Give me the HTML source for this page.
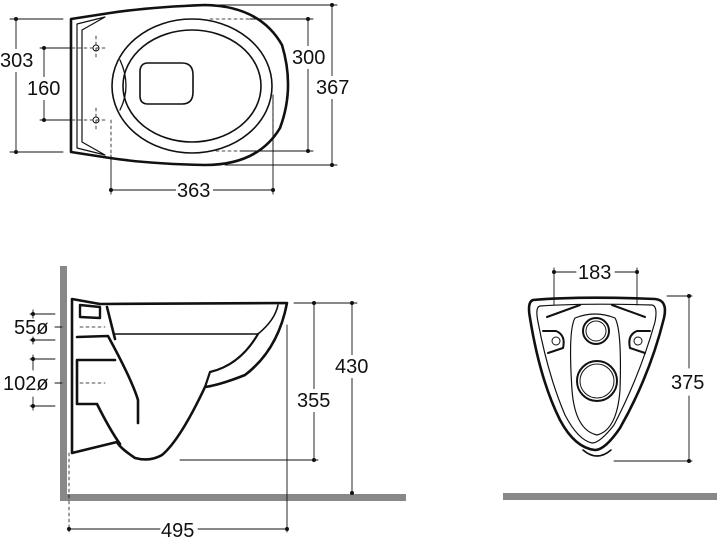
<!DOCTYPE html>
<html><head><style>
html,body{margin:0;padding:0;background:#fff;}
svg{display:block;}
text{font-family:"Liberation Sans",sans-serif;font-size:20px;fill:#111;}
</style></head><body>
<svg width="717" height="538" viewBox="0 0 717 538" xmlns="http://www.w3.org/2000/svg">
<g fill="none" stroke="#111" stroke-linecap="round" stroke-linejoin="round">
<!-- TOP VIEW -->
<path d="M71 19 L110 13 Q150 7 205 5 Q260 6 282 45 Q295 88 280 128 Q258 165 205 165 Q150 164 110 158 L71 152 Z" stroke-width="2.6"/>
<path d="M77 24 L105 17 L82 30 L82 142 L105 155 L77 148 Z" stroke-width="1.2"/>
<ellipse cx="192" cy="86" rx="80" ry="67" stroke-width="1.6"/>
<ellipse cx="192" cy="86" rx="69" ry="56" stroke-width="1.6"/>
<path d="M120 60 Q132 86 120 110" stroke-width="1.3"/>
<path d="M148 63 L182 63 Q193 63 193 75 L193 92 Q193 104 182 104 L148 104 Q140 104 140 96 L140 72 Q140 63 148 63 Z" stroke-width="1.6"/>
<circle cx="96" cy="48" r="3" stroke-width="1"/><circle cx="96" cy="120" r="3" stroke-width="1"/>
<g stroke-width="0.9">
<path d="M10 19 L63 19 M10 152 L63 152 M16 19 L16 152"/>
<path d="M40 48 L70 48 M40 120 L70 120 M44 48 L44 120"/>
<path d="M200 5 L337 5 M225 165 L337 165 M332 5 L332 165"/>
<path d="M250 19 L313 19 M240 151 L313 151 M308 19 L308 151"/>
<path d="M111 155 L111 194 M273 95 L273 194 M111 190 L273 190"/>
</g>
<g stroke-width="0.8" stroke-dasharray="3,3">
<path d="M72 48 L108 48 M72 120 L108 120 M96 36 L96 60 M96 108 L96 132 M111 120 L111 160 M273 95 L273 150 M210 19 L250 19 M210 151 L240 151"/>
</g>
<!-- SIDE VIEW -->
<path d="M72 299 L100 304 L287 303 Q278 350 245 375 Q220 385 205 387 Q180 440 162 455 Q150 462 135 458 Q120 448 117 442 L72 453 Z" stroke-width="2.6"/>
<path d="M80 305 L100 307 L100 318 L80 317 Z" stroke-width="2.4"/>
<path d="M107 307 L115 339" stroke-width="2.6"/>
<path d="M115 334 L258 334 Q275 320 278 305" stroke-width="1.6"/>
<path d="M258 334 Q240 365 210 372 L205 387" stroke-width="2.2"/>
<path d="M77 337 L108 336 Q132 380 138 400 L138 423" stroke-width="2.6"/>
<path d="M77 360 L115 360 M77 360 L77 404 L97 404 Q110 430 120 444" stroke-width="2.6"/>
<rect x="60" y="266" width="7" height="234" fill="#888" stroke="none"/>
<rect x="60" y="494" width="346" height="7" fill="#888" stroke="none"/>
<g stroke-width="0.9">
<path d="M294 303 L357 303 M352 303 L352 493"/>
<path d="M180 460 L318 460 M314 303 L314 460"/>
<path d="M287 325 L287 532 M69 529 L160 529 M198 529 L288 529"/>
<path d="M30 314 L55 314 M30 340 L55 340 M33 310 L33 318 M33 337 L33 344"/>
<path d="M30 359 L55 359 M30 406 L55 406 M33 355 L33 370 M33 397 L33 410"/>
<path d="M55 327 L62 327 M55 383 L62 383"/>
</g>
<g stroke-width="0.8" stroke-dasharray="3,3"><path d="M80 327 L105 327 M80 383 L105 383 M69 453 L69 532"/></g>
<!-- FRONT VIEW -->
<path d="M533 300 Q580 296 655 299 Q668 300 664 318 Q650 375 620 428 Q605 450 595 450 Q575 448 560 420 Q540 380 530 318 Q527 302 533 300 Z" stroke-width="2.6"/>
<path d="M540 306 Q585 303 652 305 Q658 306 655 322 Q640 375 614 425 Q600 443 592 443 Q578 440 565 415 Q548 375 538 322 Q535 307 540 306 Z" stroke-width="1.2"/>
<path d="M575 318 Q595 310 615 318 Q622 330 620 390 Q617 430 597 435 Q575 430 572 390 Q568 330 575 318 Z" stroke-width="1.2"/>
<circle cx="596" cy="331" r="13" stroke-width="2"/><circle cx="596" cy="331" r="10" stroke-width="1"/>
<circle cx="597" cy="381" r="20" stroke-width="2"/><circle cx="597" cy="381" r="17" stroke-width="1"/>
<circle cx="556" cy="341" r="4" stroke-width="1"/><circle cx="638" cy="341" r="4" stroke-width="1"/>
<path d="M543 331 L556 331 Q566 335 563 348 L548 353" stroke-width="2"/>
<path d="M650 331 L637 331 Q627 335 630 348 L645 353" stroke-width="2"/>
<path d="M547 317 L580 305 M645 317 L612 305" stroke-width="2"/>
<path d="M583 450 Q597 462 611 450" stroke-width="1.6"/>
<rect x="503" y="493" width="214" height="7" fill="#888" stroke="none"/>
<g stroke-width="0.9">
<path d="M554 268 L554 305 M637 268 L637 305 M554 272 L576 272 M615 272 L637 272"/>
<path d="M667 296 L692 296 M614 461 L692 461 M689 296 L689 368 M689 396 L689 461"/>
</g>
</g>
<g fill="#111">
<circle cx="16" cy="19" r="2"/><circle cx="16" cy="152" r="2"/><circle cx="44" cy="48" r="2"/><circle cx="44" cy="120" r="2"/>
<circle cx="332" cy="5" r="2"/><circle cx="332" cy="165" r="2"/><circle cx="308" cy="19" r="2"/><circle cx="308" cy="151" r="2"/>
<circle cx="111" cy="190" r="2"/><circle cx="273" cy="190" r="2"/>
<circle cx="352" cy="303" r="2"/><circle cx="352" cy="493" r="2"/><circle cx="314" cy="303" r="2"/><circle cx="314" cy="460" r="2"/>
<circle cx="69" cy="529" r="2"/><circle cx="287" cy="529" r="2"/>
<circle cx="33" cy="314" r="2"/><circle cx="33" cy="340" r="2"/><circle cx="33" cy="359" r="2"/><circle cx="33" cy="406" r="2"/>
<circle cx="554" cy="272" r="2"/><circle cx="637" cy="272" r="2"/><circle cx="689" cy="296" r="2"/><circle cx="689" cy="461" r="2"/>
</g>
<rect x="0" y="49" width="36" height="23" fill="#fff"/>
<text x="0" y="67">303</text>
<rect x="26" y="77" width="36" height="23" fill="#fff"/>
<text x="27" y="95">160</text>
<rect x="291" y="46" width="37" height="23" fill="#fff"/>
<text x="292" y="64">300</text>
<rect x="315" y="76" width="37" height="23" fill="#fff"/>
<text x="316" y="94">367</text>
<rect x="176" y="179" width="37" height="23" fill="#fff"/>
<text x="177" y="197">363</text>
<text x="14" y="334">55ø</text>
<text x="3" y="390">102ø</text>
<rect x="334" y="355" width="37" height="23" fill="#fff"/>
<text x="335" y="373">430</text>
<rect x="296" y="389" width="37" height="23" fill="#fff"/>
<text x="297" y="407">355</text>
<text x="161" y="537">495</text>
<text x="578" y="279">183</text>
<rect x="670" y="371" width="37" height="23" fill="#fff"/>
<text x="671" y="389">375</text>
</svg>
</body></html>
